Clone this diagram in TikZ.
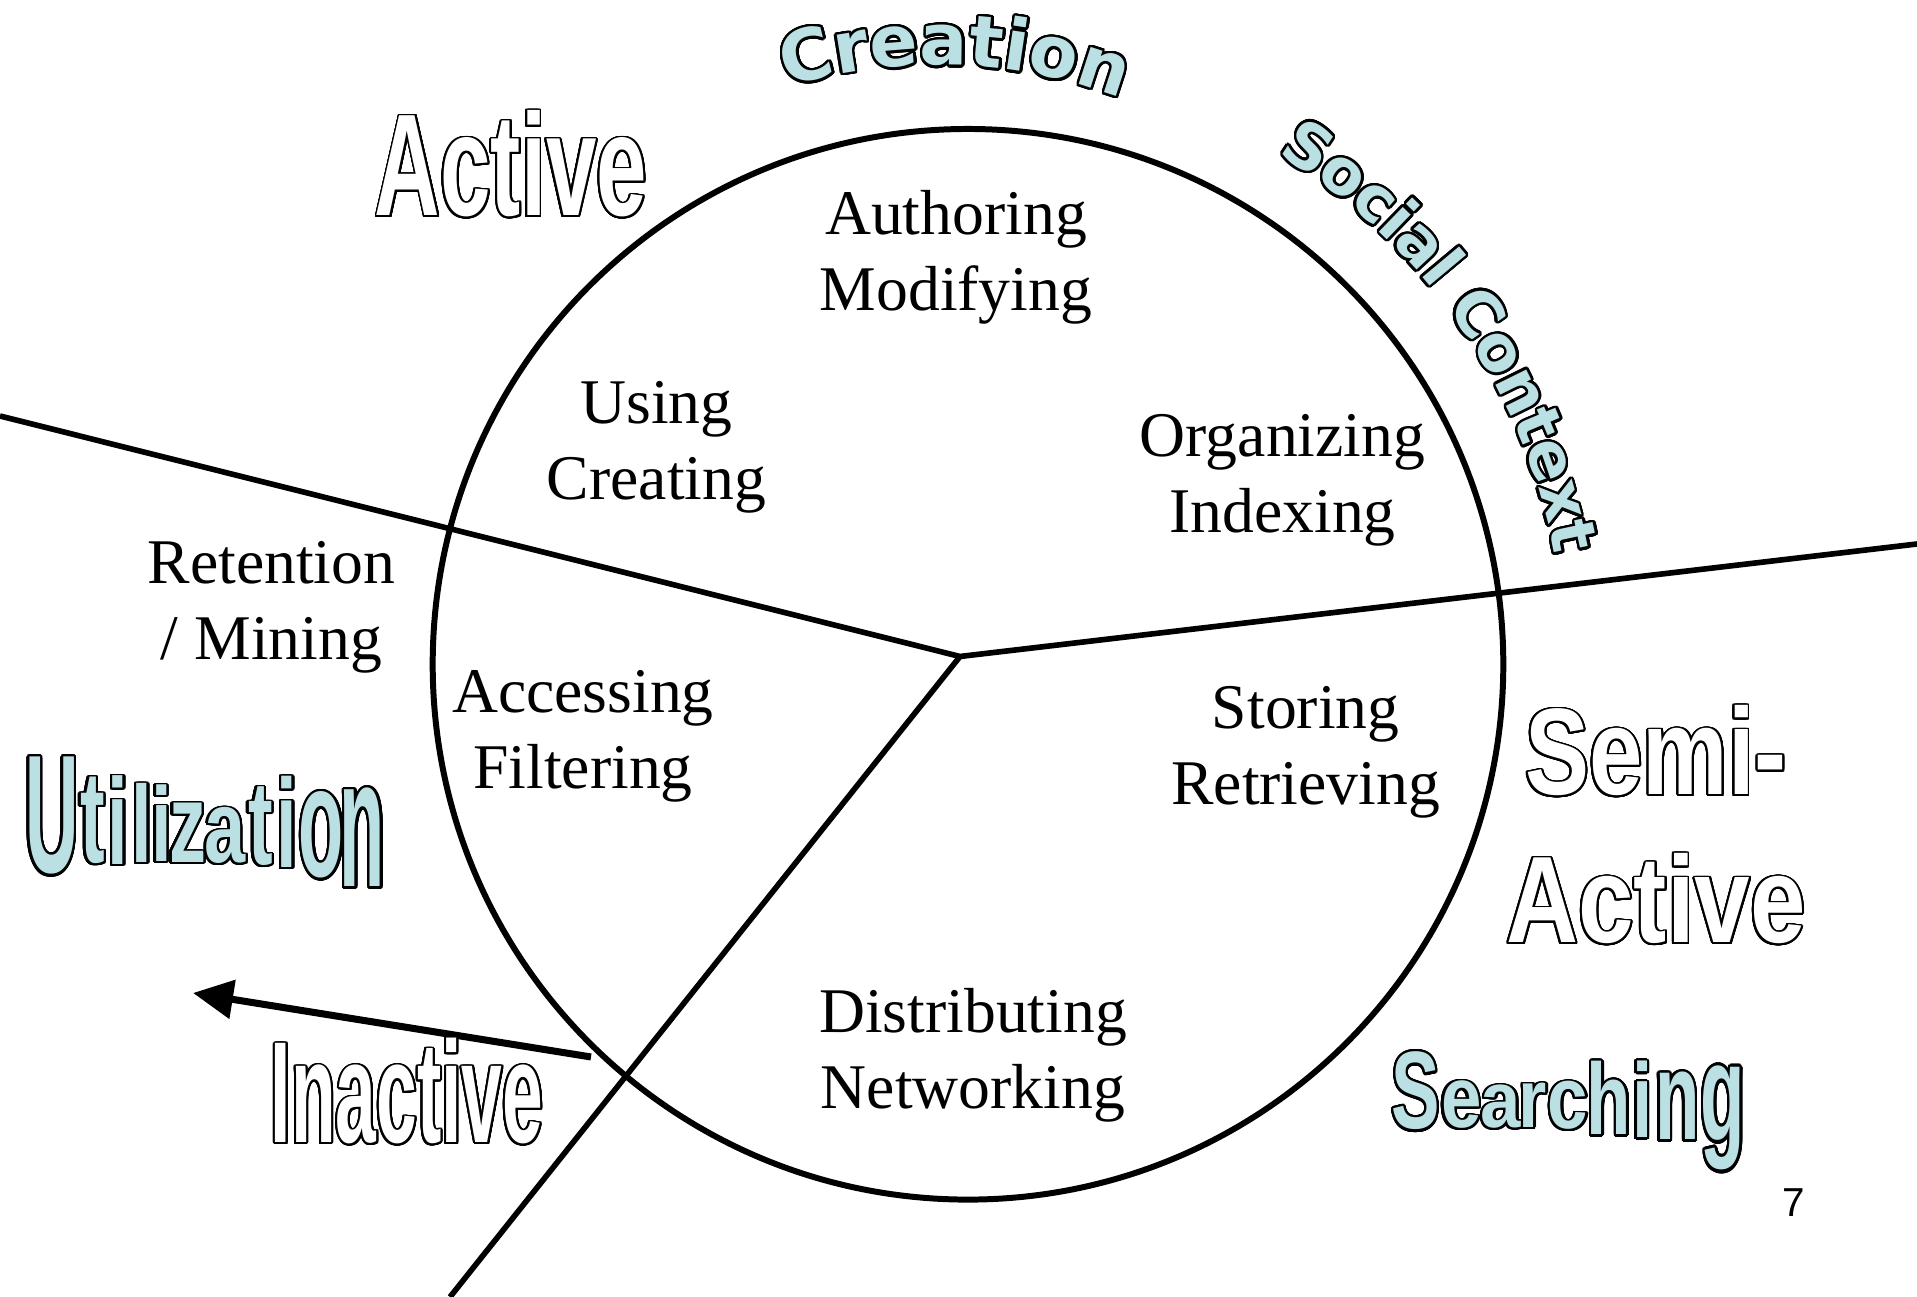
\documentclass[tikz,border=0pt]{standalone}
\usepackage{fontspec}
\usepackage{contour}
\usetikzlibrary{arrows.meta}
\setmainfont{Liberation Serif}
\newfontfamily\pagenumfont{Liberation Sans}
\newfontfamily\fontActTop{Liberation Sans}[FakeStretch=0.625]
\newfontfamily\fontInact{Liberation Sans}[FakeStretch=0.507]
\newfontfamily\fontSemiA{Liberation Sans}[FakeStretch=0.78]
\newfontfamily\fontSemiB{Liberation Sans}[FakeStretch=0.81]
\newfontfamily\fontUtil{Liberation Sans}[FakeStretch=0.44]
\newfontfamily\fontSearch{Liberation Sans}[FakeStretch=0.66]
\newfontfamily\fontArc{DejaVu Sans}
\definecolor{paleteal}{RGB}{187,224,227}
\contournumber{32}
\newcommand\hollowword[1]{\textcolor{white}{\contourlength{0.55pt}\contour{black}{#1}}}
\newcommand\tintword[1]{\textcolor{paleteal}{\contourlength{0.7pt}\contour{black}{#1}}}
% letters along an arc: #1 prefix, #2 centre, #3 baseline radius, #4 font, #5 list letter/angle
\newcommand\arcletters[5]{%
  \foreach \ch/\ang [count=\k] in {#5} {%
    \node (#1-\k) [anchor=base, inner sep=0, rotate=\ang-90, font={#4}] at ([shift={(\ang:#3)}]#2) {\tintword{\ch}};%
  }%
}
\begin{document}
\begin{tikzpicture}[x=0.01cm, y=0.01cm,
  spoke/.style={line width=1.6pt},
  lbl/.style={font=\fontsize{18.1}{21.6}\selectfont, align=center, inner sep=0},
  hollow/.style={anchor=base, inner sep=0},
  warpletter/.style={anchor=base, inner sep=0}]
\useasboundingbox (0,0) rectangle (1917,1297);
% wheel and spokes
\node (wheel) [circle, draw, line width=1.7pt, minimum size=10.7cm, inner sep=0] at (968,632.7) {};
\coordinate (hub) at (960,640.5);
\coordinate (westend) at (0,881);
\coordinate (eastend) at (1917,753);
\coordinate (southend) at (450,0);
\draw[spoke] (westend) -- (hub) -- (eastend);
\draw[spoke] (hub) -- (southend);
% arrow
\coordinate (arrowtail) at (591,240);
\coordinate (arrowtip) at (193,304);
\draw[line width=2pt, -{Triangle[length=11.4pt,width=10.8pt]}] (arrowtail) -- (arrowtip);
% labels
\node (authoring) [lbl] at (956,1040) {Authoring\\Modifying};
\node (using) [lbl] at (656.5,850) {Using\\Creating};
\node (organizing) [lbl] at (1282.5,817) {Organizing\\Indexing};
\node (retention) [lbl] at (271.4,689.3) {Retention\\/ Mining};
\node (accessing) [lbl] at (583,561) {Accessing\\Filtering};
\node (storing) [lbl] at (1305.7,545) {Storing\\Retrieving};
\node (distributing) [lbl] at (973,242) {Distributing\\Networking};
% hollow words
\node (activetop) [hollow, font=\fontActTop\bfseries\fontsize{41.25}{45}\selectfont] at (511,1081) {\hollowword{Active}};
\node (inactive) [hollow, font=\fontInact\bfseries\fontsize{41}{45}\selectfont] at (407,154) {\hollowword{Inactive}};
\node (semi) [hollow, font=\fontSemiA\bfseries\fontsize{35}{40}\selectfont] at (1656,502) {\hollowword{Semi-}};
\node (activesemi) [hollow, font=\fontSemiB\bfseries\fontsize{35}{40}\selectfont] at (1656,354) {\hollowword{Active}};
% Utilization (warped)
\foreach \ch/\px/\py/\sy [count=\k] in {U/52/424/1.0, t/92.5/434/0.78, i/118/432/0.73, l/142/434/0.65, i/161.5/435/0.63, z/187.5/434/0.67, a/225/434/0.61, t/260.5/432/0.71, i/287/429/0.75, o/321.5/420/0.94, n/362.5/410/1.09}
  \node (util-\k) [warpletter, yscale=\sy, font=\fontUtil\bfseries\fontsize{47.8}{50}\selectfont] at (\px,\py) {\tintword{\ch}};
% Searching (warped)
\foreach \ch/\px/\py/\sy [count=\k] in {S/1415.7/168/1.0, e/1461.2/169/0.79, a/1500.8/169/0.72, r/1532.7/169/0.75, c/1567.9/168/0.8, h/1609.1/162/0.92, i/1642.1/159/0.96, n/1677.3/157/1.14, g/1722.8/156/1.26}
  \node (search-\k) [warpletter, yscale=\sy, font=\fontSearch\bfseries\fontsize{31.3}{34}\selectfont] at (\px,\py) {\tintword{\ch}};
% arc texts
\coordinate (creC) at (937.5,714);
\arcletters{cre}{creC}{518}{\fontArc\bfseries\fontsize{20.2}{24}\selectfont}{C/104.02, r/99.20, e/94.61, a/89.29, t/84.76, i/81.54, o/77.50, n/72.00}
\arcletters{soc}{wheel.center}{597}{\fontArc\bfseries\fontsize{17.9}{21}\selectfont}{S/56.62, o/52.46, c/48.66, i/45.89, a/42.87, l/39.86, C/34.61, o/30.40, n/26.24, t/22.73, e/19.30, x/15.33, t/11.95}
% page number
\node (pagenum) [anchor=base, inner sep=0, font=\pagenumfont\fontsize{11.5}{13}\selectfont] at (1794,80) {7};
\end{tikzpicture}
\end{document}
